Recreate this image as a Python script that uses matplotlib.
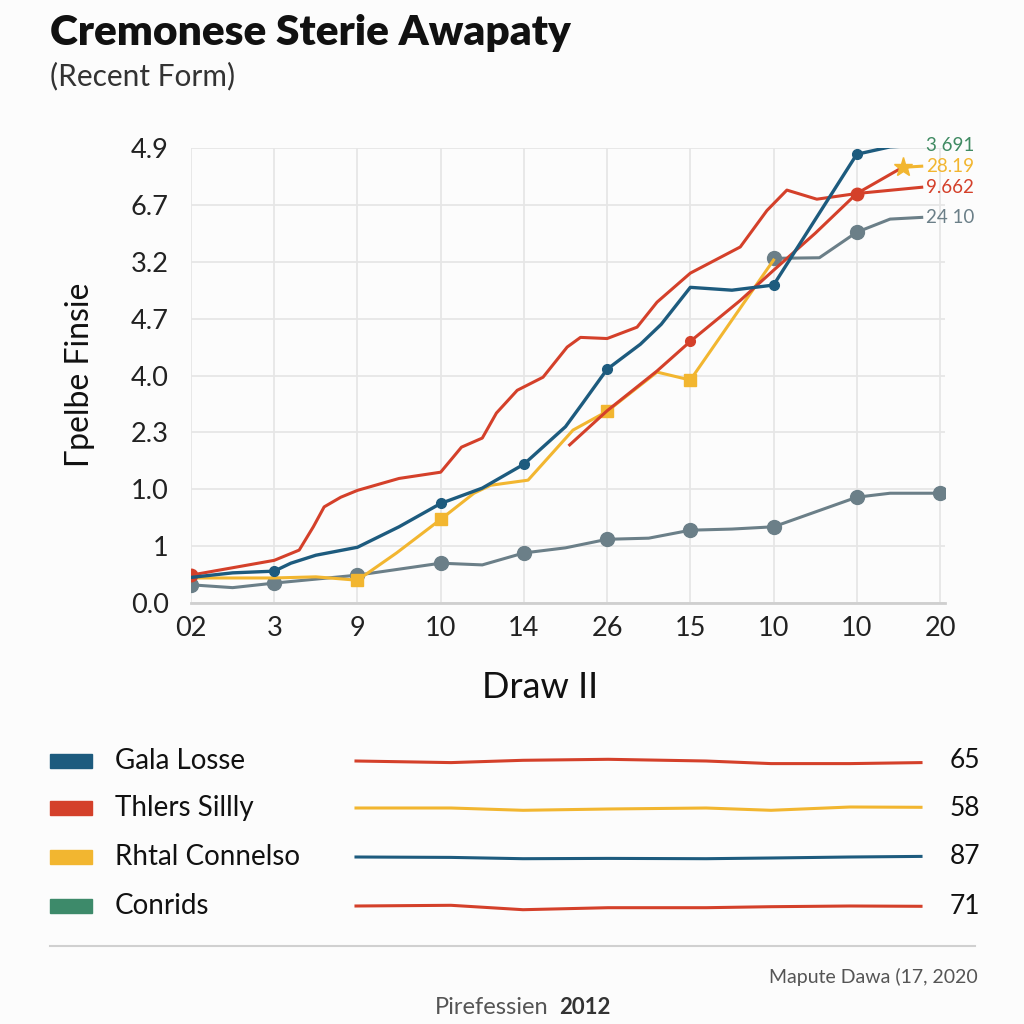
import numpy as np
import matplotlib
matplotlib.use('Agg')
import matplotlib.pyplot as plt

plt.rcParams['font.family'] = ['Lato', 'DejaVu Sans']

# main chart data (x in draw index units)
x_ticks = ['02', '3', '9', '10', '14', '26', '15', '10', '10', '20']
y_ticks = ['0.0', '1', '1.0', '2.3', '4.0', '4.7', '3.2', '6.7', '4.9']

blue_x = [0, 0.5, 1, 1.2, 1.5, 2, 2.5, 3, 3.5, 4, 4.5, 4.7, 5, 5.4, 5.65, 6, 6.5, 7, 8, 8.4, 8.78]
blue_y = [0.45, 0.53, 0.56, 0.70, 0.84, 0.98, 1.34, 1.75, 2.02, 2.44, 3.1, 3.5, 4.11, 4.55, 4.9, 5.55, 5.5, 5.59, 7.89, 8.02, 8.05]
blue_marks = [2, 7, 9, 12, 17, 18]

red_x = [0, 0.5, 1, 1.3, 1.47, 1.6, 1.8, 2, 2.5, 3, 3.25, 3.5, 3.67, 3.92, 4.23, 4.52, 4.68, 5, 5.36, 5.6, 6, 6.6, 6.92, 7.16, 7.52, 8, 8.78]
red_y = [0.49, 0.62, 0.75, 0.93, 1.34, 1.69, 1.86, 1.98, 2.19, 2.30, 2.74, 2.9, 3.34, 3.74, 3.97, 4.5, 4.67, 4.65, 4.85, 5.29, 5.8, 6.26, 6.9, 7.26, 7.1, 7.2, 7.31]
red_marks = [0, 25]

red2_x = [4.55, 5, 5.6, 6, 6.6, 7, 7.5, 8, 8.55]
red2_y = [2.78, 3.38, 4.08, 4.6, 5.32, 5.85, 6.5, 7.2, 7.66]
red2_marks = [3]

yel_x = [0, 1, 1.5, 2, 2.47, 3, 3.4, 3.6, 4.05, 4.59, 5, 5.6, 6, 7, np.nan, 8.55, 8.78]
yel_y = [0.44, 0.44, 0.46, 0.40, 0.88, 1.47, 1.93, 2.07, 2.16, 3.04, 3.37, 4.06, 3.92, 6.03, np.nan, 7.66, 7.68]
yel_marks = [3, 5, 10, 12]
yel_star = [15]

gray_x = [0, 0.5, 1, 2, 3, 3.5, 4, 4.5, 5, 5.5, 6, 6.5, 7, 8, 8.4, 9]
gray_y = [0.32, 0.27, 0.35, 0.49, 0.70, 0.67, 0.88, 0.97, 1.12, 1.14, 1.28, 1.30, 1.34, 1.86, 1.93, 1.93]
gray_marks = [0, 2, 3, 4, 6, 8, 10, 12, 13, 15]

gray2_x = [7, 7.55, 8, 8.4, 8.78]
gray2_y = [6.06, 6.07, 6.52, 6.75, 6.78]
gray2_marks = [0, 2]

end_labels = ['3 691', '28.19', '9.662', '24 10']

# legend rows
legend_names = ['Gala Losse', 'Thlers Sillly', 'Rhtal Connelso', 'Conrids']
legend_values = ['65', '58', '87', '71']
spark_x = [356, 451, 523, 608, 706, 771, 850, 921]
spark_rows = [
    [0.0, 1.6, -0.7, -1.7, 0.0, 2.6, 2.6, 1.6],
    [0.0, 0.0, 2.3, 1.0, 0.0, 2.3, -1.0, -0.7],
    [0.0, 0.4, 1.7, 1.4, 1.7, 1.0, 0.0, -0.6],
    [0.0, -0.7, 3.7, 1.7, 1.7, 0.7, 0.0, 0.3],
]

BLUE = '#1d5b7e'
RED = '#d4402a'
YEL = '#f2b630'
GRAY = '#6b7f88'
GREEN = '#3f8a62'

fig = plt.figure(figsize=(10.24, 10.24), dpi=100)
fig.patch.set_facecolor('#fcfcfc')

ax = fig.add_axes([191 / 1024, 1 - 603 / 1024, 754 / 1024, 455 / 1024])
ax.set_facecolor('#fcfcfc')
ax.set_xlim(0, 9.06)
ax.set_ylim(0, 8)

ax.plot(gray_x, gray_y, color=GRAY, lw=2.2, marker='o', ms=10, markevery=gray_marks, zorder=3)
ax.plot(gray2_x, gray2_y, color=GRAY, lw=2.2, marker='o', ms=10, markevery=gray2_marks, zorder=3)
ax.plot(yel_x, yel_y, color=YEL, lw=2.2, marker='s', ms=8, markevery=yel_marks, zorder=4)
ax.plot(np.array(yel_x)[yel_star], np.array(yel_y)[yel_star], ls='none', marker='*', ms=14, color=YEL, zorder=6)
ax.plot(red2_x, red2_y, color=RED, lw=2.2, marker='o', ms=7, markevery=red2_marks, zorder=4)
ax.plot(red_x, red_y, color=RED, lw=2.2, marker='o', ms=9, markevery=red_marks, zorder=4)
ax.plot(blue_x, blue_y, color=BLUE, lw=2.4, marker='o', ms=7, markevery=blue_marks, zorder=5)

ends = [(blue_x, blue_y, GREEN), (yel_x, yel_y, YEL), (red_x, red_y, RED), (gray2_x, gray2_y, GRAY)]
for (xs, ys, c), lab in zip(ends, end_labels):
    ax.annotate(lab, (xs[-1], ys[-1]), xytext=(3, 0), textcoords='offset points',
                color=c, fontsize=13.5, va='center', ha='left', annotation_clip=False)

ax.set_xticks(range(len(x_ticks)))
ax.set_xticklabels(x_ticks)
ax.set_yticks(range(len(y_ticks)))
ax.set_yticklabels(y_ticks)
ax.tick_params(axis='both', length=0, labelsize=19.5, colors='#222222')
ax.tick_params(axis='y', pad=16)
ax.tick_params(axis='x', pad=9)
ax.grid(True, color='#e6e6e6', lw=1.3)
ax.set_axisbelow(True)
for s in ['top', 'right', 'left']:
    ax.spines[s].set_visible(False)
ax.spines['bottom'].set_color('#cfcfcf')
ax.spines['bottom'].set_linewidth(2)

# overlay in pixel coordinates for text and legend block
ov = fig.add_axes([0, 0, 1, 1], facecolor='none')
ov.set_xlim(0, 1024)
ov.set_ylim(1024, 0)
ov.axis('off')

ov.text(50, 33, 'Cremonese Sterie Awapaty', fontsize=30.5, fontweight='heavy', color='#111111', va='center', ha='left')
ov.text(50, 76, '(Recent Form)', fontsize=21.5, color='#333333', va='center', ha='left')
ov.text(80, 375, 'Гpelbe Finsie', fontsize=23, rotation=90, color='#111111', va='center', ha='center')
ov.text(540, 688, 'Draw II', fontsize=26, color='#111111', va='center', ha='center')

row_y = [761, 808, 857, 906]
sq_colors = [BLUE, RED, YEL, '#3d8a6a']
spark_colors = [RED, YEL, BLUE, RED]
for i in range(4):
    ov.add_patch(plt.Rectangle((50, row_y[i] - 7), 42, 14, color=sq_colors[i]))
    ov.text(115, row_y[i], legend_names[i], fontsize=20, color='#111111', va='center', ha='left')
    ov.plot(spark_x, np.array(spark_rows[i]) + row_y[i], color=spark_colors[i], lw=2.2)
    ov.text(965, row_y[i], legend_values[i], fontsize=19, color='#111111', va='center', ha='center')

ov.plot([50, 975], [946, 946], color='#d0d0d0', lw=1.5)
ov.text(978, 977, 'Mapute Dawa (17, 2020', fontsize=14, color='#555555', va='center', ha='right')
ov.text(435, 1008, 'Pirefessien', fontsize=17, color='#555555', va='center', ha='left')
ov.text(559, 1008, '2012', fontsize=16, color='#333333', fontweight='bold', va='center', ha='left')

fig.savefig('out.png', dpi=100, facecolor=fig.get_facecolor())
